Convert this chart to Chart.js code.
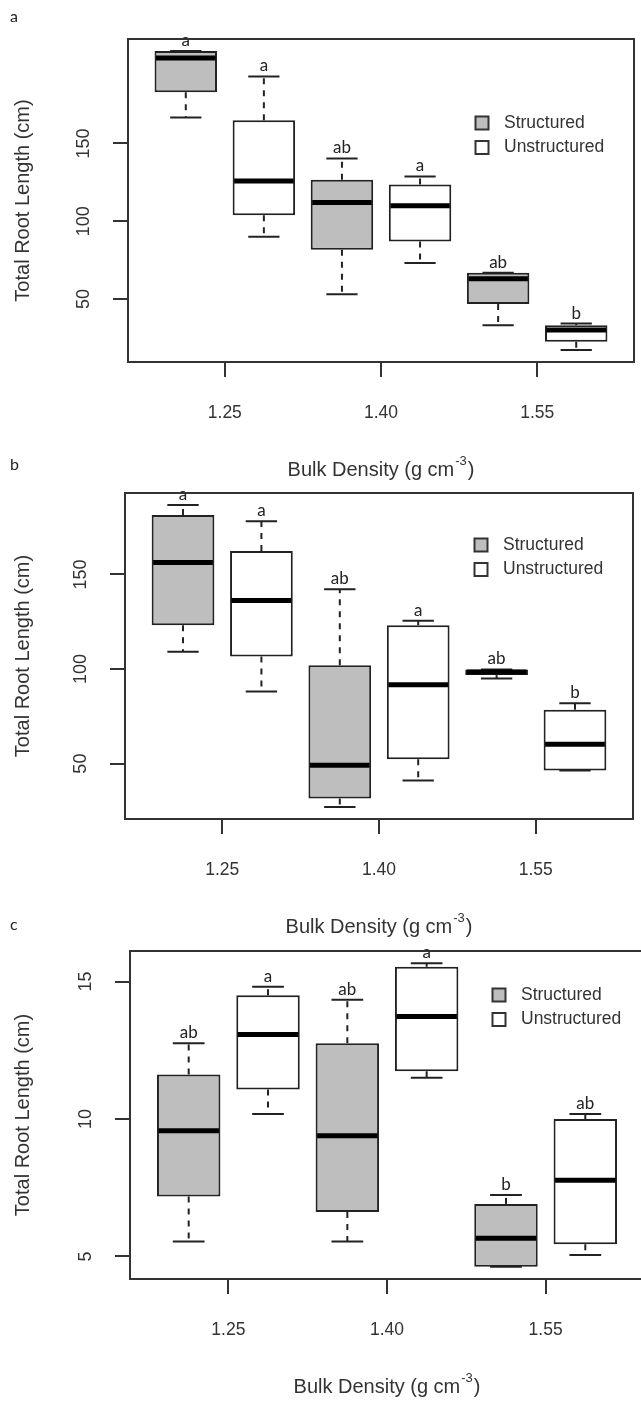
<!DOCTYPE html>
<html>
<head>
<meta charset="utf-8">
<script src="https://cdn.jsdelivr.net/npm/chart.js@4.4.1/dist/chart.umd.min.js"></script>
<style>
    html, body { margin: 0; padding: 0; background: #fff; width: 641px; height: 1402px; overflow: hidden; }
    .painel { position: absolute; left: 0; }
</style>
</head>
<body>
<canvas id="grafA" class="painel" width="650" height="500" style="top:0px"></canvas>
<canvas id="grafB" class="painel" width="650" height="500" style="top:455px"></canvas>
<canvas id="grafC" class="painel" width="650" height="500" style="top:912px"></canvas>
<script>
//Dados: cada linha = [min, Q1, mediana, Q3, max] para uma densidade
const densidades = ['1.25', '1.40', '1.55'];
const tratamentos = ['Structured', 'Unstructured'];

const aEstruturado   = [[166.7, 182.9, 204.9, 209.4, 209.4], [53.0, 81.7, 112.0, 126.7, 140.3], [33.2, 46.8, 63.0, 66.8, 66.8]];
const aDesestruturado = [[90.0, 103.8, 125.8, 164.9, 193.0], [73.1, 86.9, 110.0, 123.6, 128.8], [17.2, 22.6, 30.1, 33.2, 34.2]];
const aLetras = [['a', 'ab', 'ab'], ['a', 'a', 'b']];
const aTicksY = [50, 100, 150];

const bEstruturado   = [[109.2, 123.2, 156.4, 181.4, 186.7], [27.1, 31.6, 49.1, 102.0, 142.2], [95.0, 96.8, 98.4, 99.8, 99.8]];
const bDesestruturado = [[88.1, 106.6, 136.3, 162.4, 178.2], [41.1, 52.3, 91.7, 123.2, 125.5], [46.3, 46.3, 60.3, 78.5, 81.9]];
const bLetras = [['a', 'ab', 'ab'], ['a', 'a', 'b']];
const bTicksY = [50, 100, 150];

const cEstruturado   = [[5.54, 7.18, 9.57, 11.62, 12.76], [5.54, 6.62, 9.39, 12.76, 14.34], [4.62, 4.62, 5.66, 6.91, 7.23]];
const cDesestruturado = [[10.18, 11.07, 13.07, 14.50, 14.81], [11.50, 11.74, 13.73, 15.54, 15.67], [5.05, 5.44, 7.77, 10.00, 10.18]];
const cLetras = [['ab', 'ab', 'b'], ['a', 'a', 'ab']];
const cTicksY = [5, 10, 15];

const tituloY = 'Total Root Length (cm)';
const tituloX = 'Bulk Density (g cm';
const cores = ['#bebebe', '#ffffff'];

const FONTE_R = '"Liberation Sans", Arial, sans-serif';
const FONTE_LETRA = 'Lato, "Open Sans", sans-serif';
const ALTURA = 500;

//Plugin que desenha o resto do boxplot estilo R (bigodes, mediana, moldura, textos)
const pluginBoxplot = {
    id: 'boxplotR',
    afterDatasetsDraw(chart, args, opts) {
        const ctx = chart.ctx;
        const y = chart.scales.y;
        opts.series.forEach((serie, d) => {
            const meta = chart.getDatasetMeta(d);
            serie.forEach((cinco, i) => {
                const { x, width } = meta.data[i].getProps(['x', 'width'], true);
                const [mn, q1, md, q3, mx] = cinco.map(v => y.getPixelForValue(v));
                ctx.save();
                ctx.strokeStyle = '#222';
                ctx.lineWidth = 2;
                ctx.setLineDash([6, 6]);
                ctx.beginPath();
                if (mx < q3 - 1) { ctx.moveTo(x, q3); ctx.lineTo(x, mx); }
                if (mn > q1 + 1) { ctx.moveTo(x, q1); ctx.lineTo(x, mn); }
                ctx.stroke();
                ctx.setLineDash([]);
                ctx.beginPath();
                ctx.moveTo(x - width / 4, mx); ctx.lineTo(x + width / 4, mx);
                ctx.moveTo(x - width / 4, mn); ctx.lineTo(x + width / 4, mn);
                ctx.stroke();
                //mediana grossa
                ctx.strokeStyle = '#000';
                ctx.lineWidth = 5;
                ctx.beginPath();
                ctx.moveTo(x - width / 2 + 1.5, md); ctx.lineTo(x + width / 2 - 1.5, md);
                ctx.stroke();
                //letras de significancia
                ctx.fillStyle = '#222';
                ctx.font = '17px ' + FONTE_LETRA;
                ctx.textAlign = 'center';
                ctx.textBaseline = 'alphabetic';
                ctx.fillText(opts.letras[d][i], x, mx - 5);
                ctx.restore();
            });
        });
    },
    afterDraw(chart, args, opts) {
        const { ctx, chartArea: area } = chart;
        const y = chart.scales.y;
        ctx.save();
        ctx.strokeStyle = '#333';
        ctx.lineWidth = 2;
        ctx.strokeRect(area.left, area.top, area.right - area.left, area.bottom - area.top);

        ctx.fillStyle = '#333';
        ctx.textAlign = 'center';
        ctx.textBaseline = 'middle';
        //rotulos do eixo y girados (como no R)
        ctx.font = '18px ' + FONTE_R;
        y.ticks.forEach(t => {
            ctx.save();
            ctx.translate(area.left - 44, y.getPixelForValue(t.value));
            ctx.rotate(-Math.PI / 2);
            ctx.fillText(String(t.value), 0, 0);
            ctx.restore();
        });
        ctx.save();
        ctx.font = '20px ' + FONTE_R;
        ctx.translate(23, (area.top + area.bottom) / 2);
        ctx.rotate(-Math.PI / 2);
        ctx.fillText(tituloY, 0, 0);
        ctx.restore();

        //titulo do eixo x com expoente
        ctx.textAlign = 'left';
        ctx.font = '20px ' + FONTE_R;
        const w1 = ctx.measureText(tituloX).width;
        const w3 = ctx.measureText(')').width;
        ctx.font = '13px ' + FONTE_R;
        const w2 = ctx.measureText('-3').width;
        let xt = (area.left + area.right) / 2 - (w1 + w2 + w3 + 2) / 2;
        const yt = area.bottom + 108;
        ctx.font = '20px ' + FONTE_R;
        ctx.fillText(tituloX, xt, yt);
        ctx.font = '13px ' + FONTE_R;
        ctx.fillText('-3', xt + w1 + 1, yt - 9);
        ctx.font = '20px ' + FONTE_R;
        ctx.fillText(')', xt + w1 + w2 + 2, yt);

        //legenda
        ctx.font = '17.5px ' + FONTE_R;
        tratamentos.forEach((nome, k) => {
            const ly = opts.legenda[1] + k * 24.5;
            ctx.fillStyle = cores[k];
            ctx.fillRect(opts.legenda[0] - 6.5, ly - 6.5, 13, 13);
            ctx.strokeStyle = '#333';
            ctx.lineWidth = 2;
            ctx.strokeRect(opts.legenda[0] - 6.5, ly - 6.5, 13, 13);
            ctx.fillStyle = '#333';
            ctx.fillText(nome, opts.legenda[0] + 22, ly);
        });

        //letra do painel
        ctx.font = '16px ' + FONTE_LETRA;
        ctx.fillStyle = '#222';
        ctx.fillText(opts.painel, 10, opts.letraY);
        ctx.restore();
    }
};

//limites do eixo y como no boxplot do R (amplitude + 4%)
function limitesY(series) {
    const todos = series.flat(2);
    const mn = Math.min(...todos), mx = Math.max(...todos);
    const folga = (mx - mn) * 0.04;
    return { min: mn - folga, max: mx + folga };
}

function criarBoxplot(id, estruturado, desestruturado, letras, ticksY, quadro, legenda, painel, letraY) {
    const series = [estruturado, desestruturado];
    const lim = limitesY(series);
    const n = densidades.length * 2;
    const ticksX = densidades.map((_, i) => 2 * i + 1.5);

    return new Chart(document.getElementById(id), {
        type: 'bar',
        data: {
            datasets: series.map((serie, d) => ({
                label: tratamentos[d],
                data: serie.map((cinco, i) => ({ x: 2 * i + 1 + d, y: [cinco[1], cinco[3]] })),
                backgroundColor: cores[d],
                borderColor: '#222',
                borderWidth: 2,
                borderSkipped: false,
                grouped: false,
                barPercentage: 0.8,
                categoryPercentage: 1
            }))
        },
        options: {
            responsive: false,
            animation: false,
            devicePixelRatio: 1,
            layout: { padding: { left: 0, top: quadro.top, right: 650 - quadro.right, bottom: 0 } },
            scales: {
                x: {
                    type: 'linear',
                    min: 0.5 - n * 0.04,
                    max: n + 0.5 + n * 0.04,
                    offset: false,
                    afterBuildTicks: (eixo) => { eixo.ticks = ticksX.map(v => ({ value: v })); },
                    afterFit: (eixo) => { eixo.height = ALTURA - quadro.bottom; },
                    grid: { drawOnChartArea: false, drawTicks: true, tickLength: 15, lineWidth: 2, color: '#333', offset: false },
                    border: { display: false },
                    ticks: {
                        autoSkip: false, maxRotation: 0, padding: 26, color: '#333',
                        font: { family: FONTE_R, size: 17.5 },
                        callback: (v, i) => densidades[i]
                    }
                },
                y: {
                    min: lim.min,
                    max: lim.max,
                    afterBuildTicks: (eixo) => { eixo.ticks = ticksY.map(v => ({ value: v })); },
                    afterFit: (eixo) => { eixo.width = quadro.left; },
                    grid: { drawOnChartArea: false, drawTicks: true, tickLength: 15, lineWidth: 2, color: '#333' },
                    border: { display: false },
                    ticks: { display: false }
                }
            },
            plugins: {
                legend: { display: false },
                tooltip: { enabled: false },
                boxplotR: { series: series, letras: letras, legenda: legenda, painel: painel, letraY: letraY }
            }
        },
        plugins: [pluginBoxplot]
    });
}

criarBoxplot('grafA', aEstruturado, aDesestruturado, aLetras, aTicksY,
    { left: 128, right: 634, top: 39, bottom: 362 }, [482, 123], 'a', 17);
criarBoxplot('grafB', bEstruturado, bDesestruturado, bLetras, bTicksY,
    { left: 125, right: 633, top: 38, bottom: 364 }, [481, 90], 'b', 10);
criarBoxplot('grafC', cEstruturado, cDesestruturado, cLetras, cTicksY,
    { left: 130, right: 644, top: 39, bottom: 367 }, [499, 83], 'c', 13);
</script>
</body>
</html>
